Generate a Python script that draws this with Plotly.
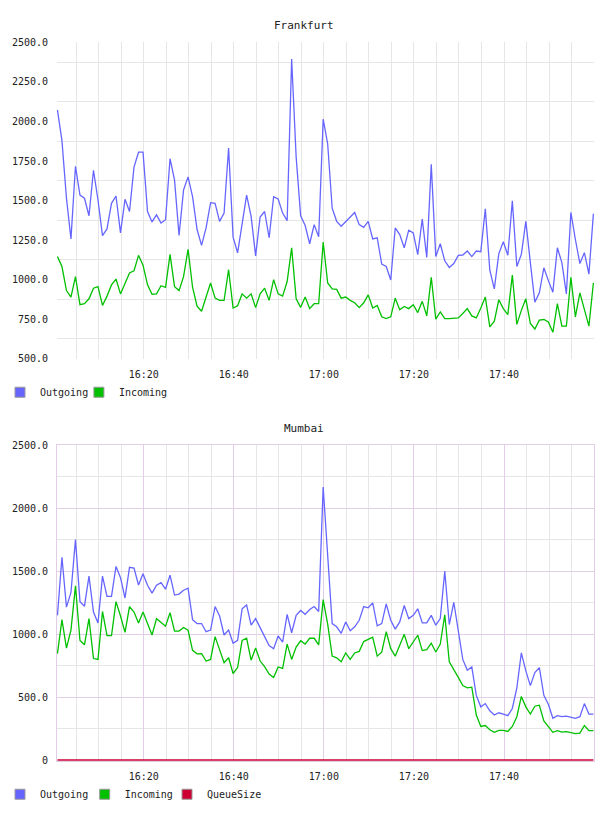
import pandas as pd
import plotly.graph_objects as go

# ---------------- data ----------------
start_time = "2024-01-01 16:00:51"
n_points = 120
times = pd.date_range(start_time, periods=n_points, freq="min")

frankfurt_outgoing = [
    2073, 1879, 1515, 1258, 1717, 1535, 1515, 1404, 1692, 1504,
    1279, 1321, 1483, 1529, 1296, 1508, 1431, 1712, 1806, 1806,
    1431, 1365, 1410, 1358, 1379, 1765, 1629, 1279, 1567, 1650,
    1525, 1317, 1217, 1327, 1487, 1483, 1369, 1421, 1833, 1269,
    1170, 1358, 1535, 1400, 1150, 1396, 1431, 1265, 1525, 1510,
    1421, 1373, 2396, 1775, 1404, 1342, 1227, 1348, 1271, 2015,
    1858, 1452, 1369, 1338, 1369, 1396, 1425, 1348, 1331, 1369,
    1258, 1265, 1098, 1083, 998, 1327, 1285, 1202, 1313, 1296,
    1158, 1383, 1140, 1729, 1146, 1227, 1119, 1077, 1102, 1154,
    1156, 1181, 1146, 1181, 1177, 1448, 1060, 942, 1165, 1240,
    1154, 1498, 1083, 1160, 1369, 1108, 858, 917, 1075, 994,
    921, 1202, 1108, 910, 1425, 1254, 1102, 1171, 1035, 1417,
]
frankfurt_incoming = [
    1146, 1083, 931, 890, 1019, 842, 848, 879, 946, 956,
    837, 896, 967, 1004, 910, 973, 1042, 1056, 1154, 1092,
    967, 908, 910, 962, 952, 1160, 956, 931, 1019, 1192,
    952, 833, 800, 890, 979, 883, 869, 869, 1063, 821,
    835, 910, 883, 910, 823, 910, 946, 869, 1000, 910,
    896, 988, 1202, 879, 825, 890, 817, 848, 848, 1238,
    979, 942, 938, 883, 890, 869, 854, 823, 854, 904,
    821, 837, 765, 754, 765, 883, 810, 831, 817, 842,
    792, 863, 771, 1015, 750, 796, 754, 754, 754, 758,
    786, 817, 771, 758, 821, 890, 702, 738, 873, 817,
    779, 1029, 717, 806, 879, 723, 688, 744, 748, 733,
    667, 848, 706, 706, 1015, 765, 917, 817, 706, 979,
]

mumbai_outgoing = [
    1150, 1612, 1215, 1332, 1752, 1259, 1223, 1462, 1176, 1090,
    1462, 1301, 1301, 1539, 1449, 1288, 1532, 1526, 1391, 1480,
    1389, 1327, 1389, 1410, 1358, 1469, 1311, 1319, 1350, 1366,
    1116, 1085, 1085, 1020, 1033, 1220, 1145, 994, 1033, 929,
    952, 1202, 1233, 1072, 1124, 1046, 981, 911, 885, 986,
    937, 1158, 1012, 1150, 1189, 1158, 1197, 1220, 1181, 2170,
    1620, 1085, 1059, 1007, 1098, 1028, 1059, 1111, 1220, 1210,
    1249, 1067, 1085, 1241, 1111, 1041, 1098, 1228, 1124, 1150,
    1202, 1090, 1090, 1150, 1072, 1124, 1501, 1077, 1254, 1020,
    800, 714, 740, 514, 423, 449, 392, 358, 376, 366,
    353, 410, 574, 852, 709, 592, 696, 735, 514, 444,
    332, 353, 345, 350, 340, 332, 345, 449, 366, 366,
]
mumbai_incoming = [
    846, 1116, 890, 1033, 1384, 950, 916, 1124, 807, 800,
    1181, 989, 989, 1259, 1145, 1015, 1220, 1176, 1090, 1176,
    1085, 994, 1124, 1093, 1064, 1171, 1025, 1025, 1054, 1033,
    872, 844, 846, 787, 800, 981, 877, 774, 813, 688,
    735, 950, 968, 794, 890, 787, 742, 683, 657, 740,
    729, 922, 800, 898, 948, 922, 968, 968, 916, 1275,
    1080, 826, 813, 781, 851, 800, 851, 864, 942, 960,
    976, 826, 857, 1020, 885, 826, 911, 999, 885, 935,
    992, 870, 877, 929, 859, 922, 1155, 781, 722, 657,
    592, 574, 579, 358, 267, 275, 241, 221, 236, 236,
    228, 267, 345, 506, 423, 366, 428, 436, 312, 267,
    221, 234, 223, 226, 215, 210, 215, 275, 234, 234,
]
mumbai_queue = [0] * n_points

top_tickvals = [500, 750, 1000, 1250, 1500, 1750, 2000, 2250, 2500]
top_ticktext = ["500.0", "750.0", "1000.0", "1250.0", "1500.0", "1750.0", "2000.0", "2250.0", "2500.0"]
bot_tickvals = [0, 500, 1000, 1500, 2000, 2500]
bot_ticktext = ["0", "500.0", "1000.0", "1500.0", "2000.0", "2500.0"]

x_range = ["2024-01-01 16:00:45", "2024-01-01 17:59:59"]

# ---------------- styles ----------------
C_OUT = "#6666ff"
C_IN = "#00c000"
C_Q = "#cc0033"
GRID = "#e6e6e6"
PINK = "#e2cde6"
FONT = "DejaVu Sans Mono"
TXT = "#222222"
W = 608
H = 816


def px_x(p):
    return p / W


def px_y(p):
    return (H - p) / H


fig = go.Figure()

line_w = 1.3
fig.add_trace(go.Scatter(x=times, y=frankfurt_outgoing, mode="lines", line=dict(color=C_OUT, width=line_w),
                         xaxis="x", yaxis="y", showlegend=False, hoverinfo="skip"))
fig.add_trace(go.Scatter(x=times, y=frankfurt_incoming, mode="lines", line=dict(color=C_IN, width=line_w),
                         xaxis="x", yaxis="y", showlegend=False, hoverinfo="skip"))
fig.add_trace(go.Scatter(x=times, y=mumbai_outgoing, mode="lines", line=dict(color=C_OUT, width=line_w),
                         xaxis="x2", yaxis="y2", showlegend=False, hoverinfo="skip"))
fig.add_trace(go.Scatter(x=times, y=mumbai_incoming, mode="lines", line=dict(color=C_IN, width=line_w),
                         xaxis="x2", yaxis="y2", showlegend=False, hoverinfo="skip"))
fig.add_trace(go.Scatter(x=times, y=mumbai_queue, mode="lines", line=dict(color=C_Q, width=1.6),
                         xaxis="x2", yaxis="y2", showlegend=False, hoverinfo="skip"))

# legend entries (square swatches), each in its own legend box for exact placement
legend_items = [
    # name, color, legend id, axes, text-left px, centre y px
    ("Outgoing", C_OUT, "legend", "x", "y", 38.6, 392),
    ("Incoming", C_IN, "legend2", "x", "y", 117.9, 392),
    ("Outgoing", C_OUT, "legend3", "x2", "y2", 38.6, 800),
    ("Incoming", C_IN, "legend4", "x2", "y2", 123.7, 800),
    ("QueueSize", C_Q, "legend5", "x2", "y2", 206.0, 800),
]

legend_layouts = {}
for name, color, lid, xa, ya, tx, ty in legend_items:
    fig.add_trace(go.Scatter(x=[None], y=[None], mode="markers", name=name,
                             marker=dict(symbol="square", size=10, color=color,
                                         line=dict(color="#999999", width=1)),
                             xaxis=xa, yaxis=ya, legend=lid, showlegend=True))
    legend_layouts[lid] = dict(orientation="h", x=px_x(tx + 1 - 40), y=px_y(ty),
                               xanchor="left", yanchor="middle",
                               font=dict(family=FONT, size=10, color=TXT),
                               bgcolor="rgba(0,0,0,0)", borderwidth=0,
                               itemclick=False, itemdoubleclick=False)

xdom = [px_x(57), px_x(594)]
tickfont = dict(family=FONT, size=10, color=TXT)

common_x = dict(
    type="date", range=x_range, domain=xdom,
    tickformat="%H:%M", tick0="2024-01-01 16:00", dtick=20 * 60 * 1000,
    ticks="outside", ticklen=6, tickcolor="rgba(0,0,0,0)",
    tickfont=tickfont, zeroline=False, fixedrange=True,
)

fig.update_layout(
    width=W, height=H,
    margin=dict(l=0, r=0, t=0, b=0),
    paper_bgcolor="white", plot_bgcolor="white",
    font=dict(family=FONT, size=10, color=TXT),
    xaxis=dict(**common_x, anchor="y", showgrid=True, gridcolor=GRID, gridwidth=1,
               minor=dict(dtick=5 * 60 * 1000, tick0="2024-01-01 16:00", showgrid=True,
                          gridcolor=GRID, gridwidth=1)),
    yaxis=dict(domain=[px_y(358), px_y(37)], range=[500, 2500], anchor="x",
               tickvals=top_tickvals, ticktext=top_ticktext, showgrid=False,
               minor=dict(tick0=125, dtick=250, showgrid=True, gridcolor=GRID, gridwidth=1),
               ticks="outside", ticklen=6, tickcolor="rgba(0,0,0,0)",
               tickfont=tickfont, zeroline=False, fixedrange=True),
    xaxis2=dict(**common_x, anchor="y2", showgrid=True, gridcolor=PINK, gridwidth=1,
                showline=True, linecolor=PINK, linewidth=1, mirror=True,
                minor=dict(dtick=5 * 60 * 1000, tick0="2024-01-01 16:00", showgrid=True,
                           gridcolor=GRID, gridwidth=1)),
    yaxis2=dict(domain=[px_y(766), px_y(446)], range=[-5, 2500], anchor="x2",
                tickvals=bot_tickvals, ticktext=bot_ticktext, showgrid=True, gridcolor=PINK, gridwidth=1,
                showline=True, linecolor=PINK, linewidth=1, mirror=True,
                minor=dict(tick0=0, dtick=250, showgrid=True, gridcolor=GRID, gridwidth=1),
                ticks="outside", ticklen=6, tickcolor="rgba(0,0,0,0)",
                tickfont=tickfont, zeroline=False, fixedrange=True),
    annotations=[
        dict(text="Frankfurt", x=0.5, y=px_y(20), xref="paper", yref="paper", showarrow=False,
             xanchor="center", yanchor="middle", font=dict(family=FONT, size=11, color=TXT)),
        dict(text="Mumbai", x=0.5, y=px_y(429), xref="paper", yref="paper", showarrow=False,
             xanchor="center", yanchor="middle", font=dict(family=FONT, size=11, color=TXT)),
    ],
    **legend_layouts,
)

fig.write_html("out.html")
